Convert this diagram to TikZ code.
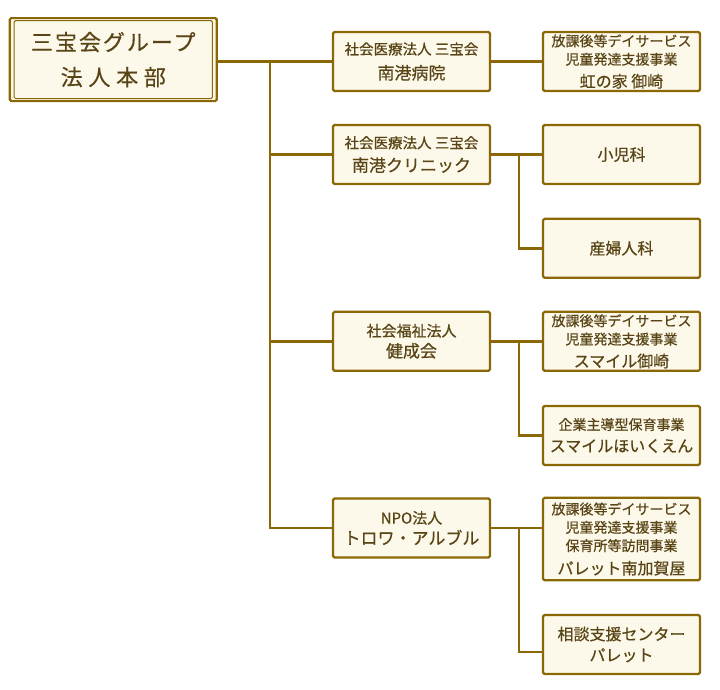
\documentclass[tikz,border=0pt]{standalone}
\usepackage{fontspec}
\setmainfont{Noto Sans CJK JP}[FakeBold=0.5]
\usepackage{xcolor}
\usepackage{tikz}
\usetikzlibrary{positioning, calc}
\definecolor{linecolor}{RGB}{139,104,6}
\definecolor{inkcolor}{RGB}{88,68,20}
\definecolor{boxcolor}{RGB}{252,248,234}
\newcommand{\subtext}[1]{{\fontsize{14}{18.3}\selectfont #1}}
\newcommand{\midtext}[1]{{\fontsize{15}{18.3}\selectfont #1}}
\newcommand{\maintext}[1]{{\fontsize{17}{18.3}\selectfont #1}}

\begin{document}
\begin{tikzpicture}[
    x=1pt, y=-1pt,
    box/.style={draw=linecolor, fill=boxcolor, line width=2.2pt, rounded corners=1.5pt, minimum width=157pt, minimum height=59pt, inner sep=0pt, align=center, text=inkcolor, font=\fontsize{16}{18.3}\selectfont},
    link/.style={draw=linecolor, line width=2.6pt}
]
    \useasboundingbox (0,0) rectangle (720,689);

    % head office
    \node[box, minimum width=207pt, minimum height=83pt, font=\fontsize{22}{26}\selectfont] (hq) at (113.3,59.6)
        {{\addfontfeature{LetterSpace=9}三宝会グループ}\\[9pt]{\addfontfeature{LetterSpace=26}法人本部}};
    \draw[linecolor, line width=1pt, rounded corners=1.5pt] ($(hq.north west)+(5.5,3.5)$) rectangle ($(hq.south east)+(-5.5,-3.5)$);

    % corporations
    \node[box] (m1) at (411.5,61.5) {{\fontsize{14.5}{18.3}\selectfont 社会医療法人 三宝会}\\[6.5pt]\maintext{南港病院}};
    \node[box] (m2) at (411.5,154.5) {{\fontsize{14.5}{18.3}\selectfont 社会医療法人 三宝会}\\[5pt]\maintext{南港クリニック}};
    \node[box] (m3) at (411.5,341.3) {\midtext{社会福祉法人}\\[2.5pt]\maintext{健成会}};
    \node[box] (m4) at (411.5,528) {\midtext{NPO法人}\\[2.5pt]\maintext{トロワ・アルブル}};

    % facilities
    \node[box] (r1) at (621.5,61.5) {\subtext{放課後等デイサービス}\\\subtext{児童発達支援事業}\\[4.5pt]虹の家 御崎};
    \node[box] (r2) at (621.5,154.5) {小児科};
    \node[box] (r3) at (621.5,248.3) {産婦人科};
    \node[box] (r4) at (621.5,341.3) {\subtext{放課後等デイサービス}\\\subtext{児童発達支援事業}\\[4.4pt]スマイル御崎};
    \node[box] (r5) at (621.5,435.5) {\subtext{企業主導型保育事業}\\[3.7pt]スマイルほいくえん};
    \node[box, minimum height=82.4pt] (r6) at (621.5,539) {\subtext{放課後等デイサービス}\\\subtext{児童発達支援事業}\\\subtext{保育所等訪問事業}\\[5pt]パレット南加賀屋};
    \node[box] (r7) at (621.5,644.5) {相談支援センター\\[2.7pt]パレット};

    % trunk
    \coordinate (trunk) at (270,61.5);
    \draw[link] (hq.east |- m1.west) -- (m1.west);
    \foreach \m in {m2,m3,m4}
        \draw[link] (trunk) |- (\m.west);

    % branches
    \draw[link] (m1.east) -- (r1.west);
    \draw[link] (m2.east) -- (r2.west);
    \draw[link] (m3.east) -- (r4.west);
    \draw[link] (m4.east) -- (m4.east -| r6.west);
    \coordinate (j2) at ($(m2.east)+(28,0)$);
    \coordinate (j3) at ($(m3.east)+(28,0)$);
    \coordinate (j4) at ($(m4.east)+(28,0)$);
    \draw[link] (j2) |- (r3.west);
    \draw[link] (j3) |- (r5.west);
    \draw[link] (j4) |- ([yshift=-7.5pt]r7.west);
\end{tikzpicture}
\end{document}
